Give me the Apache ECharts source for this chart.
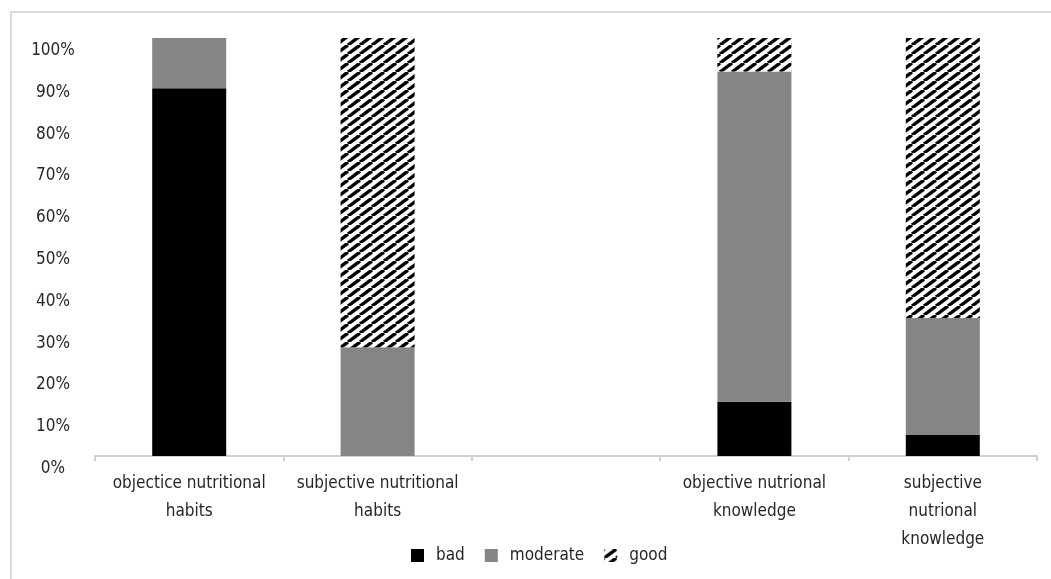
<!DOCTYPE html>
<html>
<head>
<meta charset="utf-8">
<script src="https://cdn.jsdelivr.net/npm/echarts@6/dist/echarts.min.js"></script>
<style>
  html, body { margin: 0; padding: 0; background: #fff; }
  #chart { width: 1051px; height: 579px; }
</style>
</head>
<body>
<div id="chart"></div>
<script>
// Categories (the empty slot is a spacer between the habits and knowledge groups)
const categories = [
  'objectice nutritional\nhabits',
  'subjective nutritional\nhabits',
  '',
  'objective nutrional\nknowledge',
  'subjective\nnutrional\nknowledge'
];
const seriesNames = ['bad', 'moderate', 'good'];
// Shares in percent
const badValues      = [88, 0, null, 13, 5];
const moderateValues = [12, 26, null, 79, 28];
const goodValues     = [0, 74, null, 8, 67];
const yTicks = [0, 10, 20, 30, 40, 50, 60, 70, 80, 90, 100];

const FONT = "'Liberation Sans Narrow', 'DejaVu Sans Condensed', 'Roboto Condensed', sans-serif";
const TEXT = '#262626';

// Diagonal black-on-white hatch used for the "good" segments
function hatchPattern() {
  const w = 12, h = 9;
  const c = document.createElement('canvas');
  c.width = w; c.height = h;
  const ctx = c.getContext('2d');
  ctx.fillStyle = '#ffffff';
  ctx.fillRect(0, 0, w, h);
  ctx.strokeStyle = '#000000';
  ctx.lineWidth = 3.4;
  ctx.lineCap = 'butt';
  for (let k = -1; k <= 1; k++) {
    ctx.beginPath();
    ctx.moveTo(k * w, h);
    ctx.lineTo(k * w + w, 0);
    ctx.stroke();
  }
  return { image: c, repeat: 'repeat' };
}

const chart = echarts.init(document.getElementById('chart'), null, { renderer: 'canvas' });

const barStyle = (color) => ({ color: color, borderWidth: 0 });

chart.setOption({
  animation: false,
  backgroundColor: '#ffffff',
  textStyle: { fontFamily: FONT },
  graphic: [
    {
      type: 'polyline',
      shape: { points: [[11, 579], [11, 12], [1051, 12]] },
      style: { stroke: '#d9d9d9', lineWidth: 2, fill: null },
      silent: true
    }
  ],
  grid: { left: 95, right: 14, top: 38, bottom: 123, containLabel: false },
  legend: {
    data: seriesNames,
    left: 406,
    top: 542,
    itemWidth: 13,
    itemHeight: 13,
    itemGap: 20,
    icon: 'rect',
    textStyle: { fontFamily: FONT, fontSize: 17, color: TEXT, padding: [0, 0, 0, 7] }
  },
  xAxis: {
    type: 'category',
    data: categories,
    axisLine: { show: true, lineStyle: { color: '#d0d0d0', width: 2 } },
    axisTick: { show: true, length: 5, lineStyle: { color: '#d0d0d0', width: 2 } },
    axisLabel: {
      interval: 0,
      margin: 14,
      fontFamily: FONT,
      fontSize: 17,
      lineHeight: 28,
      color: TEXT
    }
  },
  yAxis: {
    type: 'value',
    min: 0,
    max: 100,
    interval: 10,
    axisLine: { show: false },
    axisTick: { show: false },
    splitLine: { show: false },
    axisLabel: {
      margin: 42,
      align: 'center',
      verticalAlign: 'top',
      padding: [4, 0, 0, 0],
      fontFamily: FONT,
      fontSize: 17,
      color: TEXT,
      formatter: (v) => (yTicks.indexOf(v) >= 0 ? v + '%' : '')
    }
  },
  series: [
    {
      name: seriesNames[0], type: 'bar', stack: 'total', barWidth: 74,
      data: badValues, itemStyle: barStyle('#000000')
    },
    {
      name: seriesNames[1], type: 'bar', stack: 'total', barWidth: 74,
      data: moderateValues, itemStyle: barStyle('#858585')
    },
    {
      name: seriesNames[2], type: 'bar', stack: 'total', barWidth: 74,
      data: goodValues, itemStyle: barStyle(hatchPattern())
    }
  ]
});
</script>
</body>
</html>
